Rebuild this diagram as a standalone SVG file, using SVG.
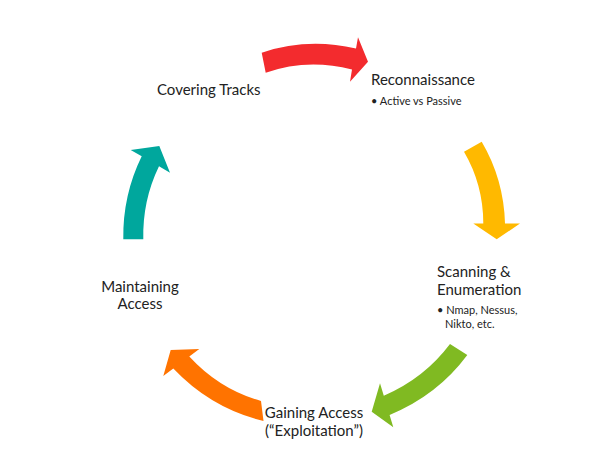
<svg xmlns="http://www.w3.org/2000/svg" width="609" height="465" viewBox="0 0 609 465">
  <style>
    .lbl { font-family: Lato, "Open Sans", "Liberation Sans", sans-serif; font-size: 15px; fill: #222222; }
    .sub { font-family: Lato, "Open Sans", "Liberation Sans", sans-serif; font-size: 11px; fill: #222222; }
    .mid { text-anchor: middle; }
  </style>
  <rect width="609" height="465" fill="#ffffff"/>

  <!-- curved block arrows of the cycle -->
  <g id="connectors">
    <path id="arrow-recon" fill="#F32B2E"
      d="M261.7,52.7 Q307.2,37.4 356,48.5 L358,37.3 L368,61.7 L350,81.7 L352,69.5 Q307.2,57.9 265.7,72.7 Z"/>
    <path id="arrow-scan" fill="#FFB900"
      d="M464,151.7 L481.7,141.7 Q503.8,179.2 505,223.5 L520,223.5 L496.7,239.3 L473.3,223.5 L483.3,223.5 Q483.3,184.6 464,151.7 Z"/>
    <path id="arrow-gain" fill="#80BA22"
      d="M450,344 L467.3,355 Q437.5,395.2 389.6,414.9 L393.3,427.3 L371.7,411.7 L380,383.3 L383.8,395.7 Q424.3,378.3 450,344 Z"/>
    <path id="arrow-maintain" fill="#FF7300"
      d="M261,401 Q219.6,389.4 189.3,356.5 L199.3,349 L170.7,350 L163.3,376 L173.3,368.5 Q211.2,408.4 263.5,421 Z"/>
    <path id="arrow-cover" fill="#00A79D"
      d="M123.3,239.3 Q122.6,195.3 141.7,156.35 L130.7,150 L159.3,146 L170,172.7 L159,166.35 Q142.4,200.6 143.3,239.3 Z"/>
  </g>

  <g id="node-recon">
    <text class="lbl" x="371" y="85">Reconnaissance</text>
    <text class="sub" x="371" y="105">• Active vs Passive</text>
  </g>

  <g id="node-scan">
    <text class="lbl" x="437" y="277">Scanning &amp;</text>
    <text class="lbl" x="437" y="295">Enumeration</text>
    <text class="sub" x="437" y="314">• Nmap, Nessus,</text>
    <text class="sub" x="445" y="328">Nikto, etc.</text>
  </g>

  <g id="node-gain">
    <text class="lbl mid" x="314" y="418">Gaining Access</text>
    <text class="lbl mid" x="314" y="436">(“Exploitation”)</text>
  </g>

  <g id="node-maintain">
    <text class="lbl mid" x="140" y="292">Maintaining</text>
    <text class="lbl mid" x="140" y="309">Access</text>
  </g>

  <g id="node-cover">
    <text class="lbl" x="157" y="95">Covering Tracks</text>
  </g>
</svg>
